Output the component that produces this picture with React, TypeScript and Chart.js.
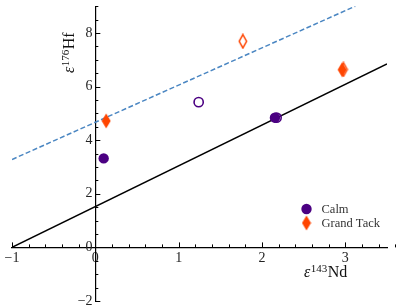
import React, { useEffect, useRef } from 'react';
import { Chart, registerables } from 'chart.js';

Chart.register(...registerables);

// ---- data ----
const xRange = [-1, 3.5];
const yRange = [-2, 9];
const xMajorTicks = [-1, 0, 1, 2, 3];
const yMajorTicks = [-2, 0, 2, 4, 6, 8];
const xMinorStep = 0.2;
const yMinorStep = 0.5;

const calmFilled = [
  { x: 0.1, y: 3.32 },
  { x: 2.155, y: 4.84 },
];
const calmOpen = [
  { x: 1.24, y: 5.42 },
  { x: 2.175, y: 4.84 },
];
const grandTackFilled = [
  { x: 0.13, y: 4.72 },
  { x: 2.962, y: 6.63 },
];
const grandTackOpen = [
  { x: 1.77, y: 7.69 },
  { x: 2.978, y: 6.64 },
];
const solidLine = [
  { x: -1, y: 0 },
  { x: 3.5, y: 6.85 },
];
const dashedLine = [
  { x: -1, y: 3.28 },
  { x: 3.12, y: 9 },
];
const legendLabels = ['Calm', 'Grand Tack'];
const xTitle = ['ε', '143', 'Nd'];
const yTitle = ['ε', '176', 'Hf'];

const PURPLE = '#4B0082';
const ORANGE = '#FF4500';
const BLUE = '#4A86C2';
const SERIF = '"Liberation Serif", "Times New Roman", serif';

function makeDiamond(color: string, filled: boolean): HTMLCanvasElement {
  const w = 9;
  const h = 15;
  const c = document.createElement('canvas');
  c.width = w + 1;
  c.height = h + 1;
  const ctx = c.getContext('2d')!;
  const cx = c.width / 2;
  const cy = c.height / 2;
  ctx.beginPath();
  if (filled) {
    ctx.moveTo(cx, cy - h / 2);
    ctx.lineTo(cx + w / 2, cy);
    ctx.lineTo(cx, cy + h / 2);
    ctx.lineTo(cx - w / 2, cy);
    ctx.closePath();
    ctx.fillStyle = color;
    ctx.fill();
  } else {
    const i = 0.8;
    ctx.moveTo(cx, cy - h / 2 + i);
    ctx.lineTo(cx + w / 2 - i, cy);
    ctx.lineTo(cx, cy + h / 2 - i);
    ctx.lineTo(cx - w / 2 + i, cy);
    ctx.closePath();
    ctx.strokeStyle = color;
    ctx.lineWidth = 1.5;
    ctx.stroke();
  }
  return c;
}

function fmt(v: number): string {
  return v < 0 ? '\u2212' + Math.abs(v) : String(v);
}

function drawRich(ctx: CanvasRenderingContext2D, parts: string[], x: number, y: number) {
  ctx.textBaseline = 'alphabetic';
  ctx.textAlign = 'left';
  ctx.font = `italic 16px ${SERIF}`;
  ctx.fillText(parts[0], x, y);
  x += ctx.measureText(parts[0]).width + 0.5;
  ctx.font = `11px ${SERIF}`;
  ctx.fillText(parts[1], x, y - 5);
  x += ctx.measureText(parts[1]).width + 0.5;
  ctx.font = `16px ${SERIF}`;
  ctx.fillText(parts[2], x, y);
}

const decorPlugin = {
  id: 'decor',
  afterDraw(chart: any) {
    const { ctx, scales } = chart;
    const xs = scales.x;
    const ys = scales.y;
    const x0 = xs.getPixelForValue(0);
    const y0 = ys.getPixelForValue(0);
    ctx.save();
    ctx.strokeStyle = '#000';
    ctx.lineWidth = 1;
    // x ticks (pointing up)
    const nx = Math.round((xRange[1] - xRange[0]) / xMinorStep);
    for (let i = 0; i <= nx; i++) {
      const v = xRange[0] + i * xMinorStep;
      const major = Math.abs(v - Math.round(v)) < 1e-6;
      const len = major ? 5 : 3;
      const px = Math.round(xs.getPixelForValue(v)) + 0.5;
      ctx.beginPath();
      ctx.moveTo(px, y0);
      ctx.lineTo(px, y0 - len);
      ctx.stroke();
    }
    // y ticks (pointing right)
    const ny = Math.round((yRange[1] - yRange[0]) / yMinorStep);
    for (let i = 0; i <= ny; i++) {
      const v = yRange[0] + i * yMinorStep;
      const major = yMajorTicks.some((t) => Math.abs(t - v) < 1e-6);
      const len = major ? 5 : 3;
      const py = Math.round(ys.getPixelForValue(v)) + 0.5;
      ctx.beginPath();
      ctx.moveTo(x0, py);
      ctx.lineTo(x0 + len, py);
      ctx.stroke();
    }
    // axis titles
    ctx.fillStyle = '#111';
    drawRich(ctx, xTitle, 304, 277);
    ctx.save();
    ctx.translate(74, 73);
    ctx.rotate(-Math.PI / 2);
    drawRich(ctx, yTitle, 0, 0);
    ctx.restore();
    // legend
    const ds = chart.data.datasets;
    const lx = 306.5;
    const ly = [209, 223];
    ctx.fillStyle = ds[0].backgroundColor;
    ctx.beginPath();
    ctx.arc(lx, ly[0], ds[0].pointRadius, 0, Math.PI * 2);
    ctx.fill();
    const img = ds[2].pointStyle as HTMLCanvasElement;
    ctx.drawImage(img, lx - img.width / 2, ly[1] - img.height / 2);
    ctx.fillStyle = '#333';
    ctx.font = `12.5px ${SERIF}`;
    ctx.textBaseline = 'middle';
    ctx.textAlign = 'left';
    legendLabels.forEach((t, i) => ctx.fillText(t, 321.5, ly[i] + 0.5));
    ctx.restore();
  },
};

export default function App() {
  const ref = useRef<HTMLCanvasElement | null>(null);
  useEffect(() => {
    if (!ref.current) return;
    const gtFilledImg = makeDiamond(ORANGE, true);
    const gtOpenImg = makeDiamond(ORANGE, false);
    const tickFont = { family: SERIF, size: 14 };
    const chart = new Chart(ref.current, {
      type: 'scatter',
      data: {
        datasets: [
          {
            label: legendLabels[0],
            data: calmFilled,
            backgroundColor: PURPLE,
            borderWidth: 0,
            pointRadius: 5.2,
            pointHoverRadius: 5.2,
          },
          {
            label: legendLabels[0] + ' open',
            data: calmOpen,
            backgroundColor: 'rgba(0,0,0,0)',
            borderColor: PURPLE,
            borderWidth: 1.6,
            pointRadius: 4.6,
          },
          {
            label: legendLabels[1],
            data: grandTackFilled,
            pointStyle: gtFilledImg,
            backgroundColor: ORANGE,
          },
          {
            label: legendLabels[1] + ' open',
            data: grandTackOpen,
            pointStyle: gtOpenImg,
            backgroundColor: ORANGE,
          },
          {
            label: 'solid',
            data: solidLine,
            showLine: true,
            borderColor: '#000',
            borderWidth: 1.5,
            pointRadius: 0,
            fill: false,
          },
          {
            label: 'dashed',
            data: dashedLine,
            showLine: true,
            borderColor: BLUE,
            borderWidth: 1.5,
            borderDash: [5, 2.5],
            pointRadius: 0,
            fill: false,
          },
        ] as any,
      },
      options: {
        responsive: false,
        animation: false,
        devicePixelRatio: 1,
        layout: { padding: { left: 12, right: 12, top: 6, bottom: 7 } },
        plugins: { legend: { display: false }, tooltip: { enabled: false } },
        scales: {
          x: {
            type: 'linear',
            min: xRange[0],
            max: xRange[1],
            position: { y: 0 } as any,
            grid: { display: false, drawTicks: false },
            border: { display: true, color: '#000', width: 1.2 },
            ticks: {
              font: tickFont,
              color: '#222',
              padding: 3,
              maxRotation: 0,
              autoSkip: false,
              callback: (v: any) => fmt(Number(v)),
            },
            afterBuildTicks: (s: any) => {
              s.ticks = xMajorTicks.map((v) => ({ value: v }));
            },
            afterFit: (s: any) => {
              s.paddingLeft = 0;
              s.paddingRight = 0;
              s.paddingTop = 0;
              s.paddingBottom = 0;
            },
          },
          y: {
            type: 'linear',
            min: yRange[0],
            max: yRange[1],
            position: { x: 0 } as any,
            grid: { display: false, drawTicks: false },
            border: { display: true, color: '#000', width: 1.2 },
            ticks: {
              font: tickFont,
              color: '#222',
              padding: 3,
              autoSkip: false,
              callback: (v: any) => fmt(Number(v)) + '\u2009',
            },
            afterBuildTicks: (s: any) => {
              s.ticks = yMajorTicks.map((v) => ({ value: v }));
            },
            afterFit: (s: any) => {
              s.paddingLeft = 0;
              s.paddingRight = 0;
              s.paddingTop = 0;
              s.paddingBottom = 0;
            },
          },
        },
      },
      plugins: [decorPlugin],
    });
    return () => chart.destroy();
  }, []);
  return (
    <div style={{ position: 'absolute', left: 0, top: 0, width: 399, height: 308 }}>
      <canvas ref={ref} width={399} height={308} style={{ display: 'block' }} />
    </div>
  );
}
